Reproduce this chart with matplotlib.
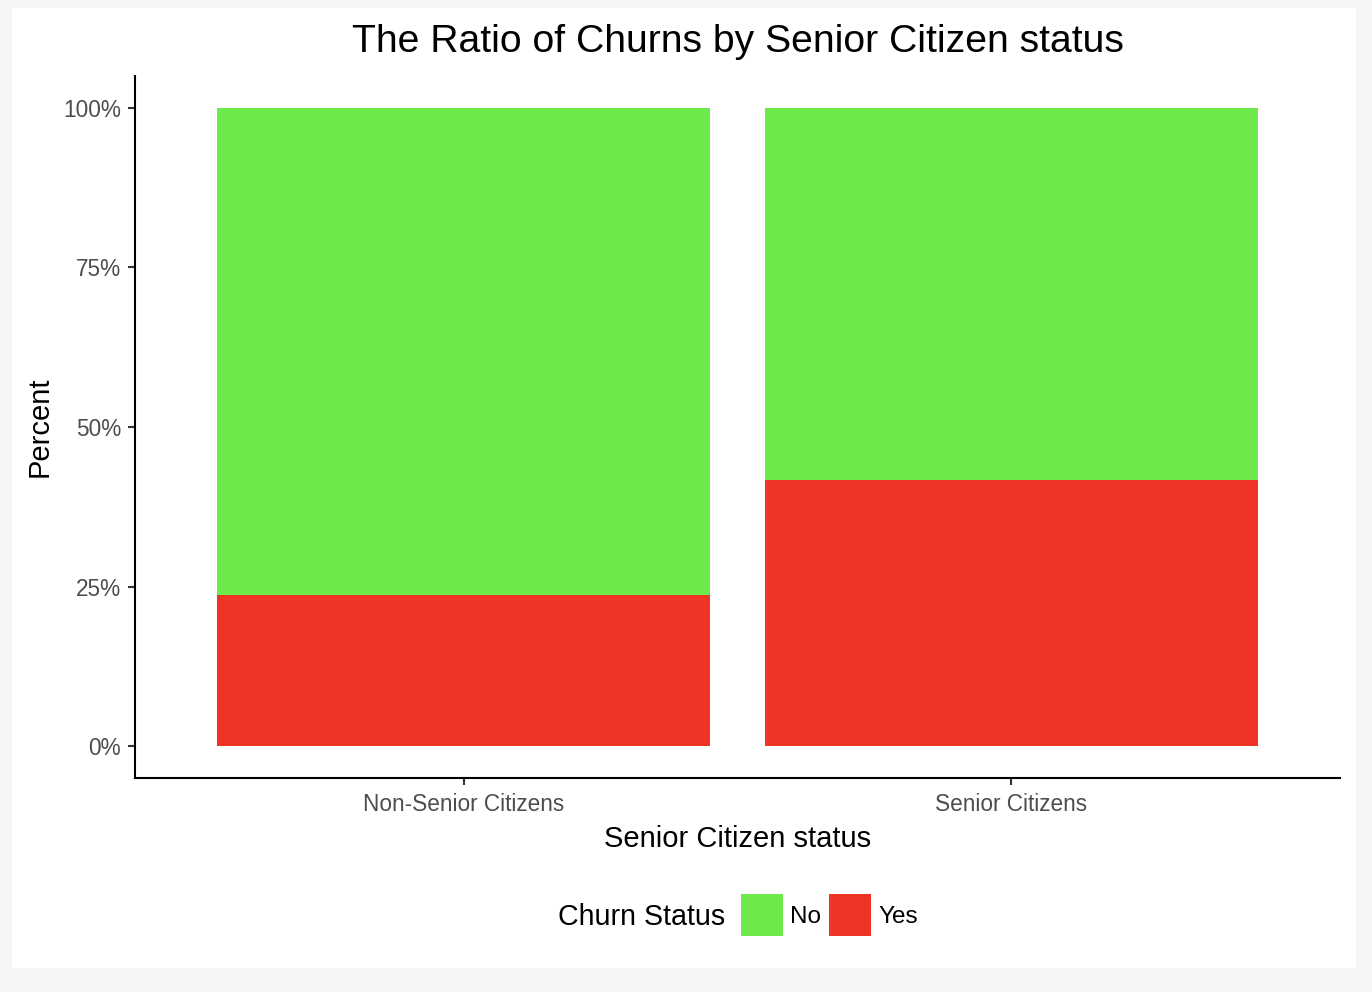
import matplotlib.pyplot as plt
from matplotlib.patches import Patch, Rectangle

# -----------------------------
# Data
# -----------------------------
categories = ["Non-Senior Citizens", "Senior Citizens"]
churn_yes = [23.61, 41.68]   # percent churned
churn_no = [76.39, 58.32]    # percent retained
status_labels = ["No", "Yes"]
colors = {"No": "#6ee94a", "Yes": "#ee3424"}

plt.rcParams['font.family'] = ['Liberation Sans', 'DejaVu Sans']

# -----------------------------
# Figure
# -----------------------------
fig = plt.figure(figsize=(13.72, 9.92), dpi=100, facecolor="#f5f5f5")
fig.patches.append(Rectangle((12 / 1372, 1 - 968 / 992), 1344 / 1372, 960 / 992,
                             transform=fig.transFigure, facecolor="white",
                             edgecolor="none", zorder=-10))

ax = fig.add_axes([135 / 1372, 1 - 778 / 992, 1205 / 1372, 702 / 992])
ax.set_facecolor("white")
ax.set_zorder(1)

x = list(range(len(categories)))
ax.bar(x, churn_yes, width=0.9, color=colors["Yes"], linewidth=0)
ax.bar(x, churn_no, width=0.9, bottom=churn_yes, color=colors["No"], linewidth=0)

ax.set_xlim(-0.6, 1.6)
ax.set_ylim(-5, 105)
ax.set_xticks(x)
ax.set_xticklabels(categories)
ax.set_yticks([0, 25, 50, 75, 100])
ax.set_yticklabels(["0%", "25%", "50%", "75%", "100%"])
ax.tick_params(axis="both", labelsize=16.3, colors="#333333", length=5, width=1.5)
ax.tick_params(axis="both", labelcolor="#4d4d4d")
ax.tick_params(axis="x", pad=5.5)
ax.tick_params(axis="y", pad=5)

for side in ["top", "right"]:
    ax.spines[side].set_visible(False)
for side in ["left", "bottom"]:
    ax.spines[side].set_linewidth(1.5)
    ax.spines[side].set_color("black")

ax.set_title("The Ratio of Churns by Senior Citizen status", fontsize=28.2, pad=17)
ax.set_xlabel("Senior Citizen status", fontsize=21, labelpad=6.5)
ax.set_ylabel("Percent", fontsize=21, labelpad=7)

# -----------------------------
# Legend (title on the left)
# -----------------------------
handles = [Patch(facecolor=colors[s], edgecolor="none") for s in status_labels]
fig.text(558 / 1372, 1 - 917 / 992, "Churn Status", fontsize=20.6, va="center", ha="left")
fig.legend(handles, status_labels, loc="center left", bbox_to_anchor=(741 / 1372, 1 - 915 / 992),
           ncol=2, frameon=False, fontsize=17.5, handlelength=1.73, handleheight=2.28,
           handletextpad=0.3, columnspacing=0.3, borderpad=0, borderaxespad=0)

plt.savefig("out.png", dpi=100, facecolor=fig.get_facecolor())
plt.close()
